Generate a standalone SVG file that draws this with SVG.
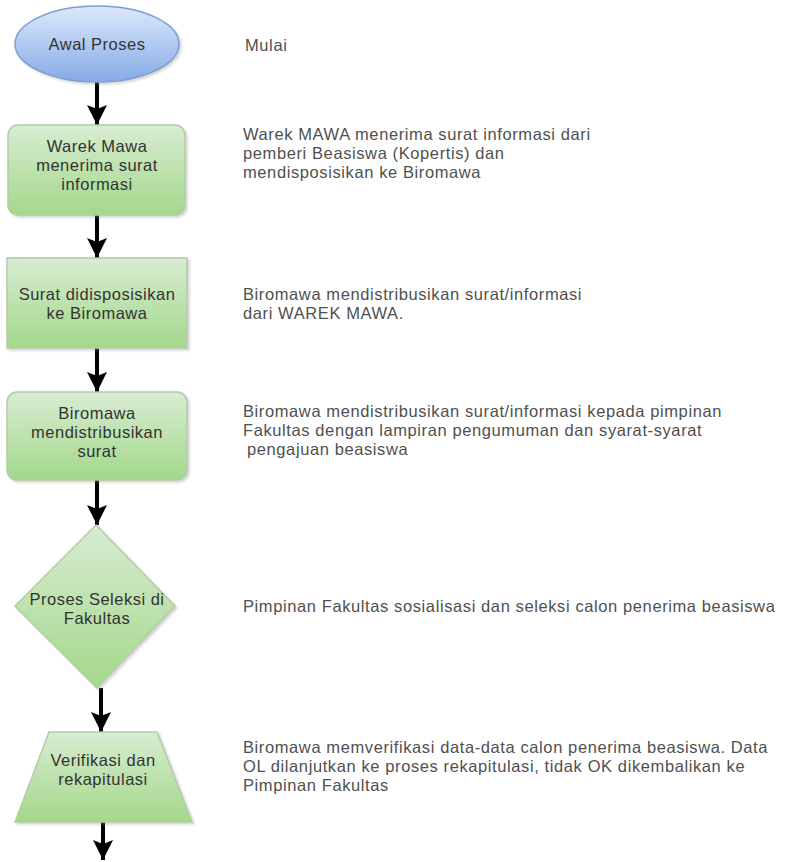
<svg xmlns="http://www.w3.org/2000/svg" width="792" height="862" viewBox="0 0 792 862">
<style>
.bg{fill:#ffffff}
.nt{font-family:"Liberation Sans",Arial,sans-serif;font-size:16.5px;letter-spacing:0.5px;fill:#333333;text-anchor:middle}
.st{font-family:"Liberation Sans",Arial,sans-serif;font-size:16.5px;letter-spacing:0.6px;fill:#505050}
.gn{fill:url(#green);stroke:#b3cca6;stroke-width:1.5;filter:url(#sh)}
.bl{fill:url(#blue);stroke:#7d9dcc;stroke-width:1.5;filter:url(#sh)}
.cn{stroke:#000000;stroke-width:4;fill:none;marker-end:url(#ah)}
</style>
<defs>
<linearGradient id="green" x1="0" y1="0" x2="0" y2="1">
<stop offset="0" stop-color="#d8ecd2"/>
<stop offset="1" stop-color="#a3d88a"/>
</linearGradient>
<linearGradient id="blue" x1="0" y1="0" x2="0" y2="1">
<stop offset="0" stop-color="#dce9fc"/>
<stop offset="1" stop-color="#86aae6"/>
</linearGradient>
<filter id="sh" x="-10%" y="-10%" width="125%" height="125%">
<feDropShadow dx="2" dy="2" stdDeviation="1.2" flood-color="#888888" flood-opacity="0.35"/>
</filter>
<marker id="ah" markerUnits="userSpaceOnUse" markerWidth="22" markerHeight="22" refX="20" refY="10" orient="auto">
<path d="M0,0 L20,10 L0,20 L4,10 Z" fill="#000000"/>
</marker>
</defs>
<rect class="bg" x="0" y="0" width="792" height="862"/>

<g id="connectors">
<line class="cn" x1="97" y1="82" x2="97" y2="125"/>
<line class="cn" x1="97" y1="215" x2="97" y2="258"/>
<line class="cn" x1="97" y1="348" x2="97" y2="392"/>
<line class="cn" x1="97" y1="480" x2="97" y2="525"/>
<line class="cn" x1="101" y1="688" x2="101" y2="732"/>
<line class="cn" x1="103" y1="822" x2="103" y2="860"/>
</g>

<g id="awal">
<ellipse class="bl" cx="97" cy="44" rx="82" ry="38"/>
<text class="nt" x="97" y="50">Awal Proses</text>
</g>

<g id="warek">
<rect class="gn" x="8" y="125" width="177" height="90" rx="10" ry="10"/>
<text class="nt" x="97" y="152">Warek Mawa</text>
<text class="nt" x="97" y="171">menerima surat</text>
<text class="nt" x="97" y="190">informasi</text>
</g>

<g id="surat">
<rect class="gn" x="7" y="258" width="180" height="90"/>
<text class="nt" x="97" y="300">Surat didisposisikan</text>
<text class="nt" x="97" y="319">ke Biromawa</text>
</g>

<g id="biromawa">
<rect class="gn" x="7" y="392" width="180" height="88" rx="10" ry="10"/>
<text class="nt" x="97" y="419">Biromawa</text>
<text class="nt" x="97" y="438">mendistribusikan</text>
<text class="nt" x="97" y="457">surat</text>
</g>

<g id="seleksi">
<polygon class="gn" points="96,525 175,606 97,688 15,606"/>
<text class="nt" x="97" y="605">Proses Seleksi di</text>
<text class="nt" x="97" y="624">Fakultas</text>
</g>

<g id="verifikasi">
<polygon class="gn" points="49,732 157,732 192,822 15,822"/>
<text class="nt" x="103" y="766">Verifikasi dan</text>
<text class="nt" x="103" y="785">rekapitulasi</text>
</g>

<g id="keterangan">
<text class="st" x="245" y="51">Mulai</text>
<text class="st" x="243" y="140">Warek MAWA menerima surat informasi dari</text>
<text class="st" x="243" y="159">pemberi Beasiswa (Kopertis) dan</text>
<text class="st" x="243" y="178">mendisposisikan ke Biromawa</text>
<text class="st" x="243" y="300">Biromawa mendistribusikan surat/informasi</text>
<text class="st" x="243" y="319">dari WAREK MAWA.</text>
<text class="st" x="243" y="417">Biromawa mendistribusikan surat/informasi kepada pimpinan</text>
<text class="st" x="243" y="436">Fakultas dengan lampiran pengumuman dan syarat-syarat</text>
<text class="st" x="247" y="455">pengajuan beasiswa</text>
<text class="st" x="243" y="612">Pimpinan Fakultas sosialisasi dan seleksi calon penerima beasiswa</text>
<text class="st" x="243" y="753">Biromawa memverifikasi data-data calon penerima beasiswa. Data</text>
<text class="st" x="243" y="772">OL dilanjutkan ke proses rekapitulasi, tidak OK dikembalikan ke</text>
<text class="st" x="243" y="791">Pimpinan Fakultas</text>
</g>
</svg>
